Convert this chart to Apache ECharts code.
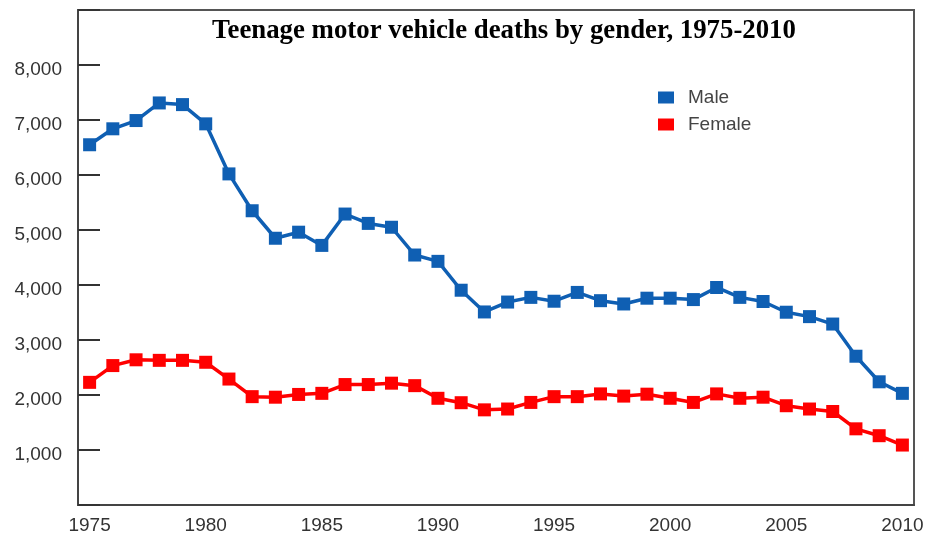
<!DOCTYPE html>
<html>
<head>
<meta charset="utf-8">
<script src="https://cdn.jsdelivr.net/npm/echarts@6/dist/echarts.min.js"></script>
<style>
html,body{margin:0;padding:0;background:#fff;}
#chart{width:928px;height:535px;}
</style>
</head>
<body>
<div id="chart"></div>
<script>
const years = ['1975','1976','1977','1978','1979','1980','1981','1982','1983','1984','1985','1986','1987','1988','1989','1990','1991','1992','1993','1994','1995','1996','1997','1998','1999','2000','2001','2002','2003','2004','2005','2006','2007','2008','2009','2010'];
const male = [6550,6840,6990,7310,7280,6930,6020,5350,4850,4960,4720,5290,5120,5050,4545,4430,3905,3510,3690,3775,3705,3865,3715,3655,3760,3760,3735,3955,3775,3700,3505,3425,3290,2705,2240,2030];
const female = [2230,2535,2640,2630,2630,2595,2290,1970,1960,2010,2030,2190,2190,2215,2170,1940,1860,1730,1745,1865,1970,1970,2020,1980,2015,1940,1865,2020,1940,1960,1805,1745,1700,1385,1260,1090];
const titleText = 'Teenage motor vehicle deaths by gender, 1975-2010';

const chart = echarts.init(document.getElementById('chart'), null, {renderer:'canvas'});
chart.setOption({
  animation: false,
  backgroundColor: '#fff',
  title: {
    text: titleText,
    left: 504, top: 18, textAlign: 'center', padding: 0,
    textStyle: {fontFamily: 'Liberation Serif', fontWeight: 'bold', fontSize: 26.8, color: '#000'}
  },
  legend: {
    orient: 'vertical', left: 658, top: 88, padding: 0,
    itemWidth: 16, itemHeight: 12, itemGap: 8,
    icon: 'rect',
    textStyle: {fontFamily: 'Liberation Sans', fontSize: 19, color: '#444', padding: [0,0,0,9]},
    data: [{name:'Male', itemStyle:{color:'#0f5fb3'}}, {name:'Female', itemStyle:{color:'#ff0000'}}]
  },
  grid: {
    left: 78, right: 14, top: 10, bottom: 30,
    show: true, borderColor: '#555', borderWidth: 2
  },
  xAxis: {
    type: 'category', data: years, boundaryGap: true,
    axisLine: {lineStyle: {color: '#444', width: 2}},
    axisTick: {inside: true, length: 11, alignWithLabel: true, interval: 0, lineStyle: {color: '#333', width: 2}},
    axisLabel: {interval: 4, margin: 11, fontFamily: 'Liberation Sans', fontSize: 19, color: '#333'},
    splitLine: {show: false}
  },
  yAxis: {
    type: 'value', min: 0, max: 9000, interval: 1000,
    axisLine: {show: true, lineStyle: {color: '#444', width: 2}},
    axisTick: {show: true, inside: true, length: 22, lineStyle: {color: '#333', width: 2}},
    axisLabel: {
      margin: 16, fontFamily: 'Liberation Sans', fontSize: 19, color: '#333',
      verticalAlign: 'top', lineHeight: 10,
      formatter: function(v){ return (v === 0 || v === 9000) ? '' : v.toLocaleString('en-US'); }
    },
    splitLine: {show: false}
  },
  series: [
    {name: 'Male', type: 'line', data: male, symbol: 'rect', symbolSize: 13,
     lineStyle: {color: '#0f5fb3', width: 3.5}, itemStyle: {color: '#0f5fb3'}},
    {name: 'Female', type: 'line', data: female, symbol: 'rect', symbolSize: 13,
     lineStyle: {color: '#ff0000', width: 3.5}, itemStyle: {color: '#ff0000'}}
  ]
});
</script>
</body>
</html>
